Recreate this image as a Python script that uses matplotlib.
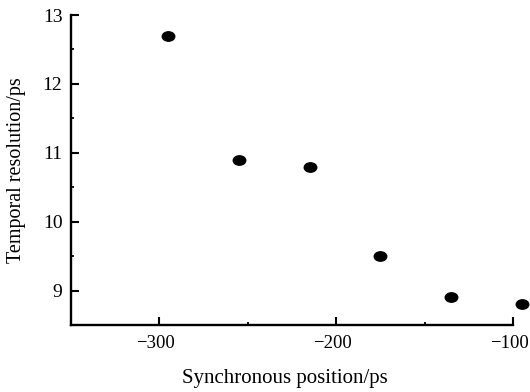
import matplotlib
matplotlib.use("Agg")
import matplotlib.pyplot as plt
from matplotlib.path import Path
from matplotlib.transforms import Affine2D, ScaledTranslation
from matplotlib.ticker import MultipleLocator

positions = [-295, -255, -215, -175, -135, -95]
resolution = [12.7, 10.9, 10.8, 9.5, 8.9, 8.8]
xticks = [-300, -200, -100]
yticks = [9, 10, 11, 12, 13]

plt.rcParams['font.family'] = ['Liberation Serif', 'DejaVu Serif']

fig = plt.figure(figsize=(5.30, 3.92), dpi=100)
ax = fig.add_axes([0.1334, 0.1709, 0.968 - 0.1334, 0.9617 - 0.1709])

ell = Path.unit_circle().transformed(Affine2D().scale(1.33, 1.0))
ax.plot(positions, resolution, linestyle='none', marker=ell, markersize=9,
        color='black', clip_on=False)

ax.set_xlim(-350, -100)
ax.set_ylim(8.5, 13)
ax.set_xticks(xticks)
ax.set_xticklabels(['\u2212' + str(abs(v)) for v in xticks])
ax.set_yticks(yticks)
ax.xaxis.set_minor_locator(MultipleLocator(50))
ax.yaxis.set_minor_locator(MultipleLocator(0.5))

for s in ['top', 'right']:
    ax.spines[s].set_visible(False)
for s in ['left', 'bottom']:
    ax.spines[s].set_linewidth(1.7)

ax.tick_params(which='major', direction='in', length=5.5, width=1.5, labelsize=14)
ax.tick_params(axis='x', which='major', labelsize=13.5, pad=7)
ax.tick_params(which='minor', direction='in', length=2.5, width=1.3)
ax.tick_params(axis='y', which='major', pad=6)

shift = ScaledTranslation(-4 / 100, 0, fig.dpi_scale_trans)
for lab in ax.get_xticklabels():
    lab.set_transform(lab.get_transform() + shift)

ax.set_xlabel('Synchronous position/ps', fontsize=15, labelpad=10)
ax.xaxis.set_label_coords(0.485, -0.143)
ax.set_ylabel('Temporal resolution/ps', fontsize=14.5, labelpad=12)

fig.savefig('out.png', dpi=100)
